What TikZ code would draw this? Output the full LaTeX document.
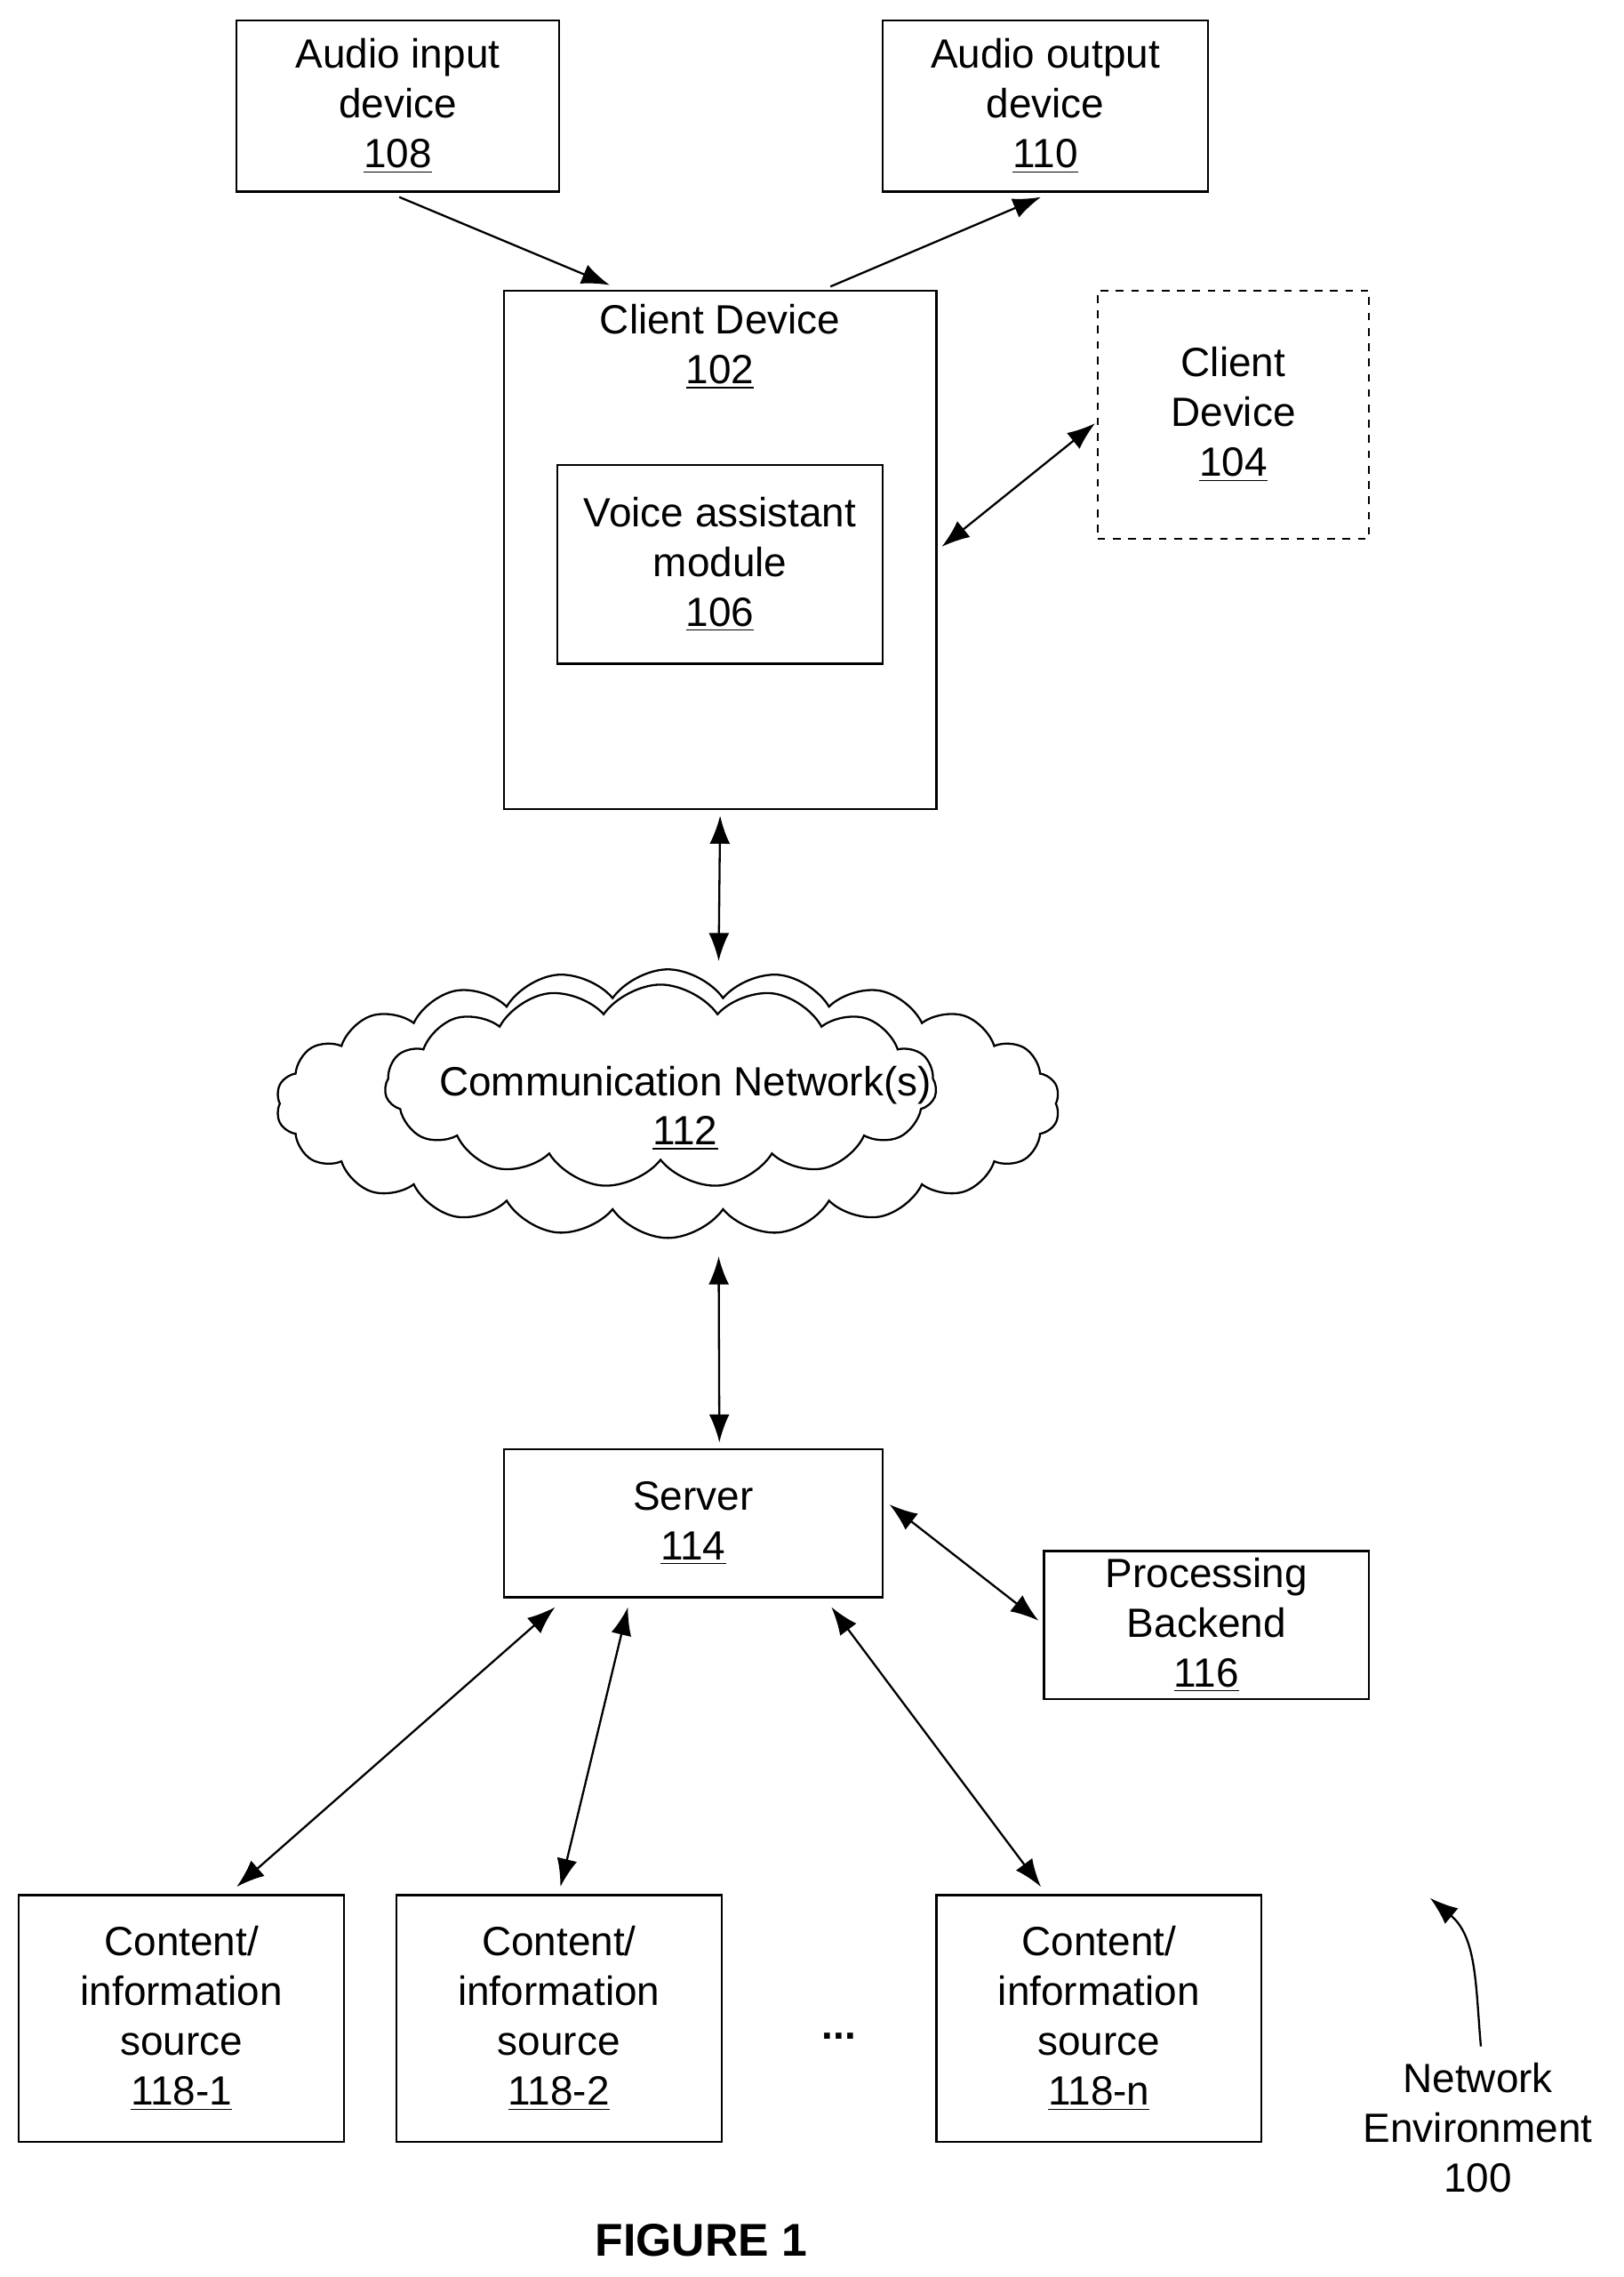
\documentclass[tikz,border=0pt]{standalone}
\usepackage{fontspec}
\setmainfont{Liberation Sans}
\usetikzlibrary{arrows.meta,calc,shapes.symbols}

\tikzset{
  box/.style={draw, thick, align=center, inner sep=0pt},
  link/.style={thick, -{Latex[length=11pt,width=8pt]}},
  blink/.style={thick, {Latex[length=11pt,width=8pt]}-{Latex[length=11pt,width=8pt]}},
  every node/.style={font=\fontsize{16}{19.5}\selectfont, align=center}
}

\begin{document}
\begin{tikzpicture}[x=0.02cm, y=-0.02cm]
  \useasboundingbox (0,0) rectangle (1118,1568);

  % devices at the top
  \node[box, minimum width=4.44cm, minimum height=2.36cm] (in108) at (274,73) {Audio input\\device\\\underline{108}};
  \node[box, minimum width=4.48cm, minimum height=2.36cm] (out110) at (720,73) {Audio output\\device\\\underline{110}};
  \node[box, minimum width=5.96cm, minimum height=7.14cm] (c102) at (496,378.5) {};
  \node[anchor=north] (c102t) at ($(c102.north)+(0,4)$) {Client Device\\\underline{102}};
  \node[box, minimum width=4.48cm, minimum height=2.74cm] (va106) at (496,388.5) {Voice assistant\\module\\\underline{106}};
  \node[box, dashed, minimum width=3.74cm, minimum height=3.42cm] (c104) at (849.5,285.5) {Client\\Device\\\underline{104}};

  % network
  \node[cloud, draw, thick, cloud puffs=22, cloud puff arc=110, aspect=2.8,
        minimum width=10.8cm, minimum height=3.7cm] (net) at (460,760) {};
  \node[cloud, draw, thick, fill=white, cloud puffs=15, cloud puff arc=110, aspect=2.6,
        minimum width=7.6cm, minimum height=2.8cm] (net2) at (455,748) {};
  \node (netl) at (472,763) {Communication Network(s)\\\underline{112}};

  % server side
  \node[box, minimum width=5.22cm, minimum height=2.04cm] (srv) at (477.5,1049) {Server\\\underline{114}};
  \node[box, minimum width=4.48cm, minimum height=2.04cm] (pb116) at (831,1119) {Processing\\Backend\\\underline{116}};
  \node[box, minimum width=4.48cm, minimum height=3.4cm] (src1) at (125,1390) {Content/\\information\\source\\\underline{118-1}};
  \node[box, minimum width=4.48cm, minimum height=3.4cm] (src2) at (385,1390) {Content/\\information\\source\\\underline{118-2}};
  \node[box, minimum width=4.48cm, minimum height=3.4cm] (srcn) at (757,1390) {Content/\\information\\source\\\underline{118-n}};
  \node (dots) at (578,1402) {\textbf{...}};
  \node (env) at (1018,1465) {Network\\Environment\\100};
  \node[font=\bfseries\fontsize{18}{20}\selectfont] (fig) at (483,1543) {FIGURE 1};

  % connectors
  \draw[link] ($(in108.south)+(1,3)$) -- ($(c102.north)+(-76,-3)$);
  \draw[link] ($(c102.north)+(76,-2)$) -- ($(out110.south)+(-3,3)$);
  \draw[blink] ($(c102.east)+(3,-2)$) -- ($(c104.west)+(-1,6)$);
  \draw[blink] ($(c102.south)+(0,4)$) -- ($(net.north)+(35,-5)$);
  \draw[blink] ($(net.south)+(35,12)$) -- ($(srv.north)+(18,-4)$);
  \draw[blink] ($(srv.east)+(4,-13)$) -- ($(pb116.west)+(-3,-3)$);
  \draw[blink] ($(srv.south west)+(36,6)$) -- ($(src1.north)+(38,-5)$);
  \draw[blink] ($(srv.south)+(-45,6)$) -- ($(src2.north)+(1,-5)$);
  \draw[blink] ($(srv.south east)+(-36,6)$) -- ($(srcn.north)+(-40,-5)$);
  \draw[thick, -{Latex[length=11pt,width=8pt]}] ($(env.north)+(2,-5)$) to[out=95, in=-40] (985,1307);
\end{tikzpicture}
\end{document}
